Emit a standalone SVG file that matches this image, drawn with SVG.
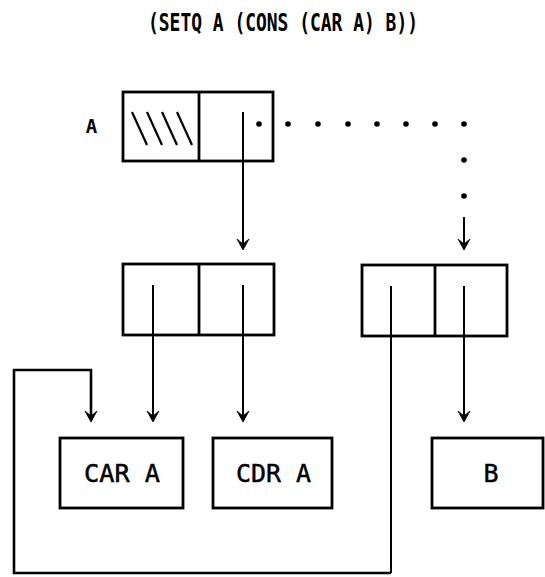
<svg xmlns="http://www.w3.org/2000/svg" width="545" height="577" viewBox="0 0 545 577">
<style>
.box{fill:#fff;stroke:#000;stroke-width:2.8}
.ln{fill:none;stroke:#000;stroke-width:2}
.loop{fill:none;stroke:#000;stroke-width:2.6}
.hatch{stroke:#000;stroke-width:2.2}
.dot{fill:#000}
.ah{fill:#000;stroke:#000;stroke-width:0.8;stroke-linejoin:round}
.t{font-family:"DejaVu Sans Mono","Liberation Mono",monospace;fill:#000}
.bt{font-size:25px;font-weight:normal;stroke:#000;stroke-width:0.5}
</style>
<defs>
<path id="arr" class="ah" d="M-6,-11 L0,0 L6,-11 L0,-6 Z"/>
</defs>
<rect width="545" height="577" fill="#fff"/>
<text class="t" x="148" y="31" font-size="24" font-weight="bold" textLength="270" lengthAdjust="spacingAndGlyphs">(SETQ A (CONS (CAR A) B))</text>

<g id="label-A"><text class="t" x="91.5" y="133" font-size="19" font-weight="bold" text-anchor="middle">A</text></g>

<g id="cell-A">
<rect class="box" x="123" y="92" width="150" height="69"/>
<line class="box" x1="199" y1="92" x2="199" y2="161"/>
<line class="hatch" x1="132" y1="112" x2="147" y2="145"/>
<line class="hatch" x1="147" y1="112" x2="162" y2="145"/>
<line class="hatch" x1="162" y1="112" x2="177" y2="145"/>
<line class="hatch" x1="177" y1="112" x2="192" y2="145"/>
</g>

<g id="cell-car">
<rect class="box" x="123" y="264" width="151" height="71"/>
<line class="box" x1="199" y1="264" x2="199" y2="335"/>
</g>

<g id="cell-new">
<rect class="box" x="362" y="265" width="145" height="71"/>
<line class="box" x1="435" y1="265" x2="435" y2="336"/>
</g>

<g id="box-carA">
<rect class="box" x="60" y="438" width="123" height="70"/>
<text class="t bt" x="84" y="482" textLength="76" lengthAdjust="spacingAndGlyphs">CAR A</text>
</g>
<g id="box-cdrA">
<rect class="box" x="213" y="438" width="119" height="70"/>
<text class="t bt" x="236" y="482" textLength="75" lengthAdjust="spacingAndGlyphs">CDR A</text>
</g>
<g id="box-B">
<rect class="box" x="432" y="438" width="111" height="70"/>
<text class="t bt" x="491" y="482" text-anchor="middle">B</text>
</g>

<g id="connectors">
<line class="ln" x1="243" y1="112" x2="243" y2="246"/>
<use href="#arr" x="243" y="250"/>
<g class="dot">
<circle cx="259" cy="124" r="2.8"/><circle cx="288" cy="124" r="2.8"/><circle cx="318" cy="124" r="2.8"/><circle cx="348" cy="124" r="2.8"/>
<circle cx="377" cy="124" r="2.8"/><circle cx="406" cy="124" r="2.8"/><circle cx="435" cy="124" r="2.8"/><circle cx="464" cy="124" r="2.8"/>
<circle cx="464" cy="160" r="2.8"/><circle cx="464" cy="196" r="2.8"/>
</g>
<line class="ln" x1="464" y1="217" x2="464" y2="246"/>
<use href="#arr" x="464" y="250"/>
<line class="ln" x1="153" y1="285" x2="153" y2="418"/>
<use href="#arr" x="153" y="422"/>
<line class="ln" x1="243" y1="285" x2="243" y2="418"/>
<use href="#arr" x="243" y="422"/>
<line class="ln" x1="464" y1="286" x2="464" y2="418"/>
<use href="#arr" x="464" y="422"/>
<line class="ln" x1="391" y1="286" x2="391" y2="573"/>
<polyline class="loop" points="391,573 14,573 14,370 91,370 91,418"/>
<use href="#arr" x="91" y="422"/>
</g>
</svg>
